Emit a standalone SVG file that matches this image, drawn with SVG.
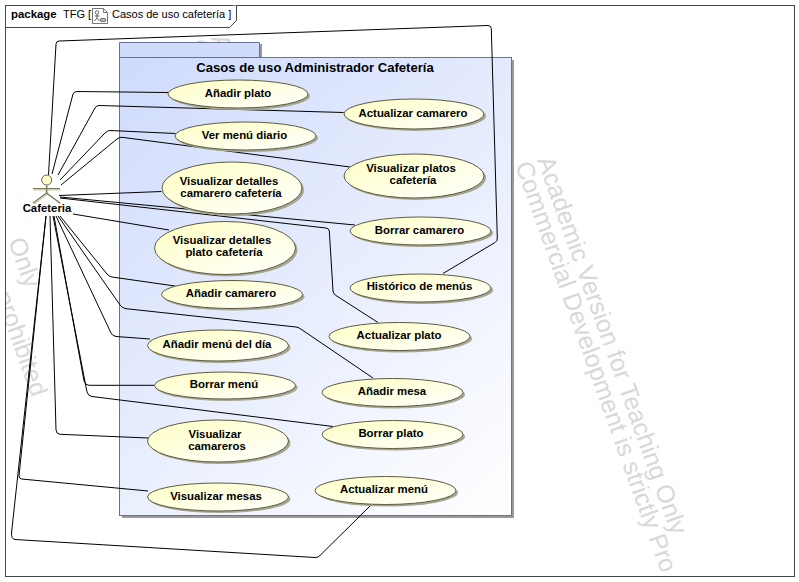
<svg xmlns="http://www.w3.org/2000/svg" width="799" height="582" viewBox="0 0 799 582">
<style>
text{font-family:"Liberation Sans",Arial,sans-serif}
.wm{font-size:24.9px;fill:#d8d8d8}
.t{font-size:11.4px;font-weight:bold;fill:#000;text-anchor:middle}
.uc{fill:url(#uc);stroke:#5e5c3c;stroke-width:1}
.sh{fill:#a6a696}
.c{fill:none;stroke:#000;stroke-width:1;stroke-linejoin:round}
.a{stroke:#7d7a58;stroke-width:1.2;fill:none}
</style>
<defs>
<linearGradient id="pk" gradientUnits="userSpaceOnUse" x1="119" y1="57" x2="511" y2="515"><stop offset="0" stop-color="#cfdbfc"/><stop offset="1" stop-color="#ffffff"/></linearGradient>
<linearGradient id="uc" x1="0" y1="0" x2="1" y2="1"><stop offset="0" stop-color="#ffffc4"/><stop offset="1" stop-color="#ffffff"/></linearGradient>
<clipPath id="fr"><rect x="6" y="6" width="788" height="570"/></clipPath>
</defs>
<rect width="799" height="582" fill="#fff"/>
<g id="watermark" clip-path="url(#fr)">
<g transform="translate(537 160) rotate(70.3)"><text class="wm">Academic Version for Teaching Only</text></g>
<g transform="translate(515 165) rotate(70.3)"><text class="wm">Commercial Development is strictly Pro</text></g>
<g transform="translate(211 38) rotate(70.3)"><text class="wm">Academic Version for Teaching Only</text></g>
<g transform="translate(189 43) rotate(70.3)"><text class="wm">Commercial Development is strictly prohibited</text></g>
<g transform="translate(8 241) rotate(70.3)"><text class="wm">Only</text></g>
<g transform="translate(-5 295) rotate(70.3)"><text class="wm">prohibited</text></g>
</g>
<g id="frame">
<rect x="5.500" y="5.500" width="789" height="571" fill="none" stroke="#444"/>
<path d="M5.500 27.500H229.500L236.500 20.500V5.500" fill="#fff" stroke="#444"/>
<text x="11" y="18" font-size="11.400" font-weight="bold">package</text>
<text x="63" y="18" font-size="11">TFG [</text>
<path d="M92.500 8.500H103.500L107.500 12.500V23.500H92.500Z" fill="#fff" stroke="#777"/>
<path d="M103.500 8.500V12.500H107.500" fill="none" stroke="#777"/>
<circle cx="97" cy="12.500" r="1.800" fill="none" stroke="#444" stroke-width=".8"/>
<path d="M97 14.500V18M94.500 16H99.500M97 18L94.500 21M97 18L99.500 21" fill="none" stroke="#444" stroke-width=".8"/>
<ellipse cx="103" cy="20" rx="3" ry="1.600" fill="#b8c4d8" stroke="#444" stroke-width=".8"/>
<text x="112" y="18" font-size="11">Casos de uso cafetería ]</text>
</g>
<g id="package">
<rect x="122" y="60" width="392" height="458" fill="#9a9a9a"/>
<rect x="260" y="44" width="2" height="14" fill="#9a9a9a"/>
<path d="M119.500 57.500V42.500H259.500V57.500" fill="#d0dcfc" stroke="#6b7196"/>
<rect x="119.500" y="57.500" width="392" height="458" fill="url(#pk)" stroke="#6b7196"/>
<text x="315" y="72" text-anchor="middle" font-size="13.100" font-weight="bold">Casos de uso Administrador Cafetería</text>
</g>
<g id="connectors">
<path class="c" d="M48.500 175L56 44Q56.300 41 59 41L488 25.500Q491 25.500 491.300 28.500L497.300 238Q497.500 241 495 242.500L443 273.500"/>
<path class="c" d="M52 174L73 94Q74 91.500 77 91.500L168 92.500"/>
<path class="c" d="M58 175L95 108Q96.500 105.500 99 105.500L343.500 112.500"/>
<path class="c" d="M60 180L105 133Q107.500 130.500 110 130.500L175.500 133.500"/>
<path class="c" d="M61 185L117 139Q119.500 137 122 137.300L350 167"/>
<path class="c" d="M59 195.500L161.500 191.500"/>
<path class="c" d="M60 197L355 225"/>
<path class="c" d="M60 198L326 228Q329 228.300 329.300 231L333 291Q333.300 294 336 295.500L378 322.500"/>
<path class="c" d="M73 214L169 230"/>
<path class="c" d="M46 216L19 476Q18.700 478.500 21.500 479L148 491"/>
<path class="c" d="M46 216L11.500 533Q11.300 539 15 539.500L315 557.500Q318 557.700 320 555.500L372 504"/>
<path class="c" d="M50 216L56 430Q56.200 434 60 434.300L148 438"/>
<path class="c" d="M53 216L87 392Q88 396 92 396.500L333 426.500"/>
<path class="c" d="M54 216L84 381Q85 385 89 385.300L154.500 385.300"/>
<path class="c" d="M56 216L111 333Q112.500 336 116 336.500L150 339"/>
<path class="c" d="M58 216L120 305Q122 308 126 308.700L296 327Q298 327.200 300 328.500L373 378"/>
<path class="c" d="M60 216L107 274Q109 276.500 112 277L175 286"/>
</g>
<g id="actor-cafeteria">
<path class="a" transform="translate(1 1)" stroke-opacity=".4" d="M46.500 185V193M33 189H60M46.500 193L33 203M46.500 193L60 203"/>
<circle cx="46.700" cy="180" r="5" fill="#ffffcc" stroke="#66644a"/>
<path class="a" d="M46.500 185V193M33 188.700H60M46.500 193L33 203M46.500 193L60 203"/>
<text class="t" x="47" y="212">Cafeteria</text>
</g>
<g id="uc-anadir-plato"><ellipse class="sh" cx="240" cy="96" rx="70" ry="14"/><ellipse class="uc" cx="238" cy="94" rx="70" ry="14"/><text class="t" x="238" y="97">Añadir plato</text></g>
<g id="uc-actualizar-camarero"><ellipse class="sh" cx="416" cy="116" rx="70" ry="15"/><ellipse class="uc" cx="414" cy="114" rx="70" ry="15"/><text class="t" x="413" y="117">Actualizar camarero</text></g>
<g id="uc-ver-menu"><ellipse class="sh" cx="247.500" cy="138" rx="70.500" ry="14"/><ellipse class="uc" cx="245.500" cy="136" rx="70.500" ry="14"/><text class="t" x="244.500" y="139">Ver menú diario</text></g>
<g id="uc-visualizar-platos"><ellipse class="sh" cx="416" cy="178" rx="70" ry="22"/><ellipse class="uc" cx="414" cy="176" rx="70" ry="22"/><text class="t" x="411" y="172">Visualizar platos</text><text class="t" x="413" y="184">cafetería</text></g>
<g id="uc-detalles-camarero"><ellipse class="sh" cx="234" cy="190" rx="70" ry="26"/><ellipse class="uc" cx="232" cy="188" rx="70" ry="26"/><text class="t" x="229" y="185">Visualizar detalles</text><text class="t" x="231" y="197">camarero cafetería</text></g>
<g id="uc-borrar-camarero"><ellipse class="sh" cx="422.500" cy="233" rx="70.500" ry="14"/><ellipse class="uc" cx="420.500" cy="231" rx="70.500" ry="14"/><text class="t" x="419.500" y="234">Borrar camarero</text></g>
<g id="uc-detalles-plato"><ellipse class="sh" cx="227" cy="250" rx="70.500" ry="26.500"/><ellipse class="uc" cx="225" cy="248" rx="70.500" ry="26.500"/><text class="t" x="222" y="244">Visualizar detalles</text><text class="t" x="224" y="256">plato cafetería</text></g>
<g id="uc-historico"><ellipse class="sh" cx="422.500" cy="290" rx="70.500" ry="14"/><ellipse class="uc" cx="420.500" cy="288" rx="70.500" ry="14"/><text class="t" x="419.500" y="290">Histórico de menús</text></g>
<g id="uc-anadir-camarero"><ellipse class="sh" cx="234" cy="296.500" rx="70.500" ry="14"/><ellipse class="uc" cx="232" cy="294.500" rx="70.500" ry="14"/><text class="t" x="231" y="297">Añadir camarero</text></g>
<g id="uc-actualizar-plato"><ellipse class="sh" cx="401.500" cy="338.500" rx="70.500" ry="14"/><ellipse class="uc" cx="399.500" cy="336.500" rx="70.500" ry="14"/><text class="t" x="399" y="339">Actualizar plato</text></g>
<g id="uc-anadir-menu"><ellipse class="sh" cx="220" cy="347.500" rx="70.500" ry="15.500"/><ellipse class="uc" cx="218" cy="345.500" rx="70.500" ry="15.500"/><text class="t" x="217" y="348">Añadir menú del día</text></g>
<g id="uc-borrar-menu"><ellipse class="sh" cx="227" cy="387.500" rx="70.500" ry="13.500"/><ellipse class="uc" cx="225" cy="385.500" rx="70.500" ry="13.500"/><text class="t" x="224" y="388">Borrar menú</text></g>
<g id="uc-anadir-mesa"><ellipse class="sh" cx="394.500" cy="394.500" rx="70.500" ry="14"/><ellipse class="uc" cx="392.500" cy="392.500" rx="70.500" ry="14"/><text class="t" x="392" y="395">Añadir mesa</text></g>
<g id="uc-borrar-plato"><ellipse class="sh" cx="394.500" cy="436.500" rx="70.500" ry="14"/><ellipse class="uc" cx="392.500" cy="434.500" rx="70.500" ry="14"/><text class="t" x="391" y="437">Borrar plato</text></g>
<g id="uc-visualizar-camareros"><ellipse class="sh" cx="220" cy="443" rx="70.500" ry="21"/><ellipse class="uc" cx="218" cy="441" rx="70.500" ry="21"/><text class="t" x="215" y="438">Visualizar</text><text class="t" x="217" y="450">camareros</text></g>
<g id="uc-actualizar-menu"><ellipse class="sh" cx="387.500" cy="492.500" rx="70.500" ry="14"/><ellipse class="uc" cx="385.500" cy="490.500" rx="70.500" ry="14"/><text class="t" x="384" y="493">Actualizar menú</text></g>
<g id="uc-visualizar-mesas"><ellipse class="sh" cx="220" cy="499" rx="70.500" ry="14"/><ellipse class="uc" cx="218" cy="497" rx="70.500" ry="14"/><text class="t" x="216" y="500">Visualizar mesas</text></g>
</svg>
